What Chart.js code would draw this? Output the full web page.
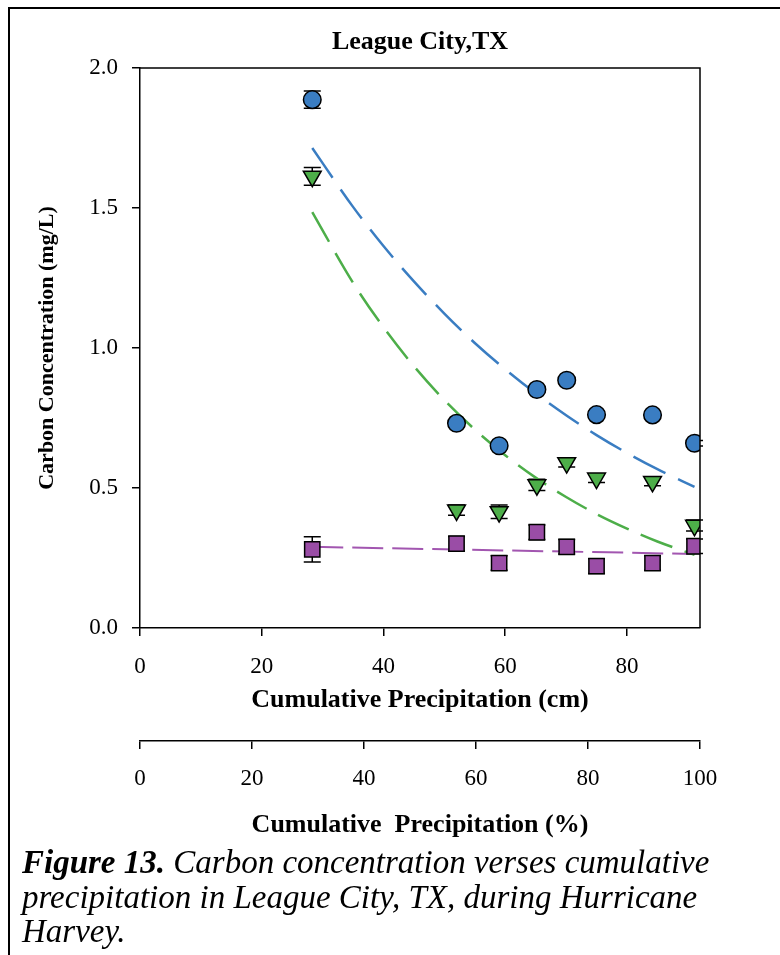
<!DOCTYPE html>
<html>
<head>
<meta charset="utf-8">
<script src="https://cdn.jsdelivr.net/npm/chart.js@4.4.1/dist/chart.umd.min.js"></script>
<style>
  html, body { margin: 0; padding: 0; background: #fff; }
  #wrap { position: relative; width: 780px; height: 955px; overflow: hidden; }
  #frame { position: absolute; left: 8px; top: 7px; width: 800px; height: 1000px; border-left: 2px solid #000; border-top: 2px solid #000; }
  #chart { position: absolute; left: 0; top: 0; }
  #caption { position: absolute; left: 22px; top: 845px; font-family: 'Liberation Serif', serif; font-style: italic; font-size: 33px; line-height: 34.5px; color: #000; white-space: nowrap; }
</style>
</head>
<body>
<div id="wrap">
  <div id="frame"></div>
  <canvas id="chart" width="780" height="955"></canvas>
  <div id="caption"><b>Figure 13.</b> Carbon concentration verses cumulative<br>precipitation in League City, TX, during Hurricane<br>Harvey.</div>
</div>
<script>
// cumulative precipitation (cm) of each sample
var precipCm = [28.3, 52.0, 59.0, 65.2, 70.1, 75.0, 84.2, 91.1];

// carbon concentration (mg/L) for the three series
var blueVals = [1.887, 0.731, 0.651, 0.852, 0.885, 0.762, 0.761, 0.660];
var greenVals = [1.613, 0.421, 0.415, 0.511, 0.590, 0.535, 0.523, 0.366];
var purpleVals = [0.281, 0.301, 0.232, 0.342, 0.290, 0.221, 0.232, 0.292];

// error bar half heights
var blueErr = [0.031, 0.01, 0.01, 0.01, 0.01, 0.01, 0.01, 0.01];
var greenErr = [0.032, 0.018, 0.024, 0.02, 0.015, 0.015, 0.015, 0.02];
var purpleErr = [0.045, 0.026, 0.026, 0.026, 0.026, 0.026, 0.026, 0.026];

// dashed trend curves
var trendX = [28.3, 35, 40, 45, 50, 55, 60, 65, 70, 75, 80, 85, 91.1];
var blueTrend = [1.714, 1.504, 1.364, 1.238, 1.123, 1.018, 0.924, 0.838, 0.760, 0.689, 0.625, 0.567, 0.504];
var greenTrend = [1.485, 1.233, 1.074, 0.935, 0.814, 0.709, 0.617, 0.537, 0.468, 0.407, 0.355, 0.309, 0.261];
var purpleTrendX = [28.3, 40, 50, 60, 70, 80, 91.1];
var purpleTrend = [0.290, 0.285, 0.281, 0.277, 0.273, 0.269, 0.264];

// axis ticks
var yTicks = [0, 0.5, 1.0, 1.5, 2.0];
var cmMax = 92;
var pctMax = 100;

var serif = "'Liberation Serif', 'Times New Roman', serif";
var blue = '#3A7DC2';
var green = '#4DAE49';
var purple = '#9A4DA6';

function pts(xs, ys) {
  return xs.map(function (x, i) { return { x: x, y: ys[i] }; });
}

var errorBars = {
  id: 'errorBars',
  beforeDatasetsDraw: function (chart) {
    var ctx = chart.ctx;
    var xs = chart.scales.x, ys = chart.scales.y;
    ctx.save();
    ctx.strokeStyle = '#000';
    ctx.lineWidth = 1.5;
    chart.data.datasets.forEach(function (ds) {
      if (!ds.errors) return;
      ds.data.forEach(function (p, i) {
        var px = xs.getPixelForValue(p.x);
        var top = ys.getPixelForValue(p.y + ds.errors[i]);
        var bot = ys.getPixelForValue(p.y - ds.errors[i]);
        ctx.beginPath();
        ctx.moveTo(px, top); ctx.lineTo(px, bot);
        ctx.moveTo(px - 8.5, top); ctx.lineTo(px + 8.5, top);
        ctx.moveTo(px - 8.5, bot); ctx.lineTo(px + 8.5, bot);
        ctx.stroke();
      });
    });
    ctx.restore();
  }
};

// top and right edge of the plot box
var boxEdges = {
  id: 'boxEdges',
  afterDraw: function (chart) {
    var a = chart.chartArea, ctx = chart.ctx;
    ctx.save();
    ctx.strokeStyle = '#000';
    ctx.lineWidth = 1.5;
    ctx.beginPath();
    ctx.moveTo(a.left, a.top); ctx.lineTo(a.right, a.top); ctx.lineTo(a.right, a.bottom);
    ctx.stroke();
    ctx.restore();
  }
};

var tickFont = { family: serif, size: 23 };
var titleFont = { family: serif, size: 26, weight: 'bold' };
var yTitleFont = { family: serif, size: 22, weight: 'bold' };

new Chart(document.getElementById('chart'), {
  type: 'scatter',
  data: {
    datasets: [{
      data: pts(precipCm, blueVals),
      errors: blueErr,
      pointStyle: 'circle',
      pointRadius: 8.8,
      backgroundColor: blue,
      borderColor: '#000',
      borderWidth: 1.5,
      order: 1
    }, {
      data: pts(precipCm, greenVals),
      errors: greenErr,
      pointStyle: 'triangle',
      rotation: 180,
      pointRadius: 10.3,
      backgroundColor: green,
      borderColor: '#000',
      borderWidth: 1.5,
      order: 1
    }, {
      data: pts(precipCm, purpleVals),
      errors: purpleErr,
      pointStyle: 'rect',
      pointRadius: 10.8,
      backgroundColor: purple,
      borderColor: '#000',
      borderWidth: 1.5,
      order: 1
    }, {
      data: pts(trendX, blueTrend),
      showLine: true,
      pointRadius: 0,
      borderColor: blue,
      borderWidth: 2.5,
      borderDash: [36, 14],
      cubicInterpolationMode: 'monotone',
      order: 2
    }, {
      data: pts(trendX, greenTrend),
      showLine: true,
      pointRadius: 0,
      borderColor: green,
      borderWidth: 2.5,
      borderDash: [34, 13],
      cubicInterpolationMode: 'monotone',
      order: 2
    }, {
      data: pts(purpleTrendX, purpleTrend),
      showLine: true,
      pointRadius: 0,
      borderColor: '#A256B0',
      borderWidth: 2,
      borderDash: [31, 9],
      order: 2
    }]
  },
  options: {
    responsive: false,
    animation: false,
    devicePixelRatio: 1,
    layout: { padding: { left: 0, right: 80, top: 0, bottom: 114 } },
    plugins: {
      legend: { display: false },
      tooltip: { enabled: false },
      title: {
        display: true,
        text: 'League City,TX',
        fullSize: false,
        color: '#000',
        font: titleFont,
        padding: { top: 26.4, bottom: 10.4 }
      }
    },
    scales: {
      x: {
        type: 'linear',
        position: 'bottom',
        min: 0,
        max: cmMax,
        afterFit: function (s) { s.height = 113; },
        border: { color: '#000', width: 1.5 },
        grid: { display: true, drawOnChartArea: false, drawTicks: true, tickLength: 8, color: '#000', lineWidth: 1.5 },
        ticks: { stepSize: 20, includeBounds: false, color: '#000', font: tickFont, padding: 17, maxRotation: 0 },
        title: { display: true, text: 'Cumulative Precipitation (cm)', color: '#000', font: titleFont, padding: { top: 0, bottom: 25.4 } }
      },
      x2: {
        type: 'linear',
        position: 'bottom',
        min: 0,
        max: pctMax,
        afterFit: function (s) { s.height = 100; },
        border: { color: '#000', width: 1.5 },
        grid: { display: true, drawOnChartArea: false, drawTicks: true, tickLength: 8, color: '#000', lineWidth: 1.5 },
        ticks: { stepSize: 20, color: '#000', font: tickFont, padding: 16, maxRotation: 0 },
        title: { display: true, text: 'Cumulative  Precipitation (%)', color: '#000', font: titleFont, padding: { top: 0, bottom: 0.5 } }
      },
      y: {
        type: 'linear',
        min: yTicks[0],
        max: yTicks[yTicks.length - 1],
        afterFit: function (s) { s.width = 140; },
        border: { color: '#000', width: 1.5 },
        grid: { display: true, drawOnChartArea: false, drawTicks: true, tickLength: 8, color: '#000', lineWidth: 1.5 },
        ticks: {
          stepSize: 0.5,
          color: '#000',
          font: tickFont,
          padding: 14,
          callback: function (v) { return v.toFixed(1); }
        },
        title: { display: true, text: 'Carbon Concentration (mg/L)', color: '#000', font: yTitleFont, padding: { top: 34, bottom: 0 } }
      }
    }
  },
  plugins: [errorBars, boxEdges]
});
</script>
</body>
</html>
